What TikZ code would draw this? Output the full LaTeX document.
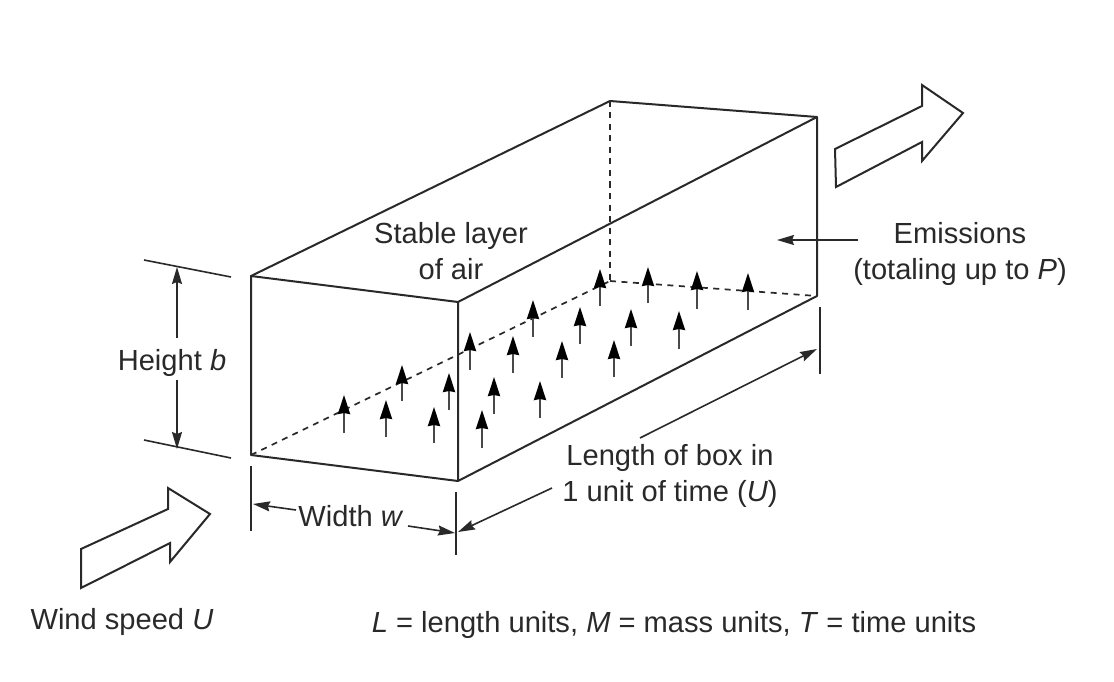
\documentclass[tikz,border=0pt]{standalone}
\usepackage{fontspec}
\setmainfont{Liberation Sans}
\usetikzlibrary{arrows.meta}
\definecolor{ink}{gray}{0.16}
\tikzset{
  edge/.style={draw=ink,line width=2pt,line join=round},
  hidden/.style={draw=ink,line width=1.7pt,dash pattern=on 6pt off 5.5pt},
  dim/.style={draw=ink,line width=1.6pt},
  dimarrow/.style={dim,-{Stealth[length=17pt,width=10pt,inset=2pt]}},
  rise/.style={draw=ink!85,line width=2.4pt,-{Stealth[length=19pt,width=12pt,inset=1pt,color=black,fill=black]}},
  block/.style={draw=ink,line width=2pt,fill=white,line join=miter},
  lab/.style={text=ink,inner sep=0pt,align=center,font=\fontsize{29.1}{36}\selectfont}
}
\newcommand{\risearrow}[3]{\coordinate (t#1) at (#1,#3); \coordinate (h#1) at (#1,#2); \draw[rise] (t#1) -- (h#1);}
\begin{document}
\begin{tikzpicture}[x=1pt,y=-1pt]
\useasboundingbox (0,0) rectangle (1114,682);
% box corners
\coordinate (A) at (251,276);
\coordinate (B) at (458,302);
\coordinate (C) at (458,481);
\coordinate (D) at (251,455);
\coordinate (E) at (610,101);
\coordinate (F) at (817,117);
\coordinate (G) at (817,296);
\coordinate (H) at (610,281);
% hidden edges
\draw[hidden] (D) -- (H);
\draw[hidden] (H) -- (G);
\draw[hidden] (E) -- (H);
% emission arrows
\risearrow{344}{395}{433}
\risearrow{386}{400}{437}
\risearrow{402}{365}{401}
\risearrow{434}{407}{443}
\risearrow{449}{373}{410}
\risearrow{470}{332}{370}
\risearrow{482}{410}{448}
\risearrow{494}{377}{414}
\risearrow{513}{336}{373}
\risearrow{540}{381}{418}
\risearrow{533}{300}{337}
\risearrow{562}{341}{378}
\risearrow{580}{307}{344}
\risearrow{600}{269}{306}
\risearrow{614}{340}{377}
\risearrow{631}{309}{346}
\risearrow{648}{267}{303}
\risearrow{679}{311}{349}
\risearrow{697}{271}{309}
\risearrow{748}{273}{310}
% visible edges
\draw[edge] (A) -- (B) -- (C) -- (D) -- cycle;
\draw[edge] (A) -- (E) -- (F) -- (G) -- (C);
\draw[edge] (B) -- (F);
% height dimension
\coordinate (h1a) at (144,260); \coordinate (h1b) at (231,277);
\coordinate (h2a) at (144,440); \coordinate (h2b) at (231,458);
\draw[dim] (h1a) -- (h1b);
\draw[dim] (h2a) -- (h2b);
\node[lab] (height) at (172,363) {Height \textit{b}};
\coordinate (hUp) at (177,267); \coordinate (hDn) at (177,449);
\coordinate (hUs) at (177,338); \coordinate (hDs) at (177,380);
\draw[dimarrow] (hUs) -- (hUp);
\draw[dimarrow] (hDs) -- (hDn);
% width dimension
\coordinate (w1a) at (251,466); \coordinate (w1b) at (251,531);
\coordinate (w2a) at (456,492); \coordinate (w2b) at (456,555);
\draw[dim] (w1a) -- (w1b);
\draw[dim] (w2a) -- (w2b);
\node[lab] (width) at (351,516) {Width \textit{w}};
\coordinate (wLs) at (296,510); \coordinate (wL) at (253,504);
\coordinate (wRs) at (408,526); \coordinate (wR) at (455,533);
\draw[dimarrow] (wLs) -- (wL);
\draw[dimarrow] (wRs) -- (wR);
% length dimension
\coordinate (l1a) at (820,307); \coordinate (l1b) at (820,374);
\draw[dim] (l1a) -- (l1b);
\node[lab] (length) at (670,476) {Length of box in\\1 unit of time (\textit{U})};
\coordinate (lUs) at (640,438); \coordinate (lU) at (817,349);
\coordinate (lDs) at (552,488); \coordinate (lD) at (458,532);
\draw[dimarrow] (lUs) -- (lU);
\draw[dimarrow] (lDs) -- (lD);
% emissions
\node[lab] (emis) at (960,254) {Emissions\\(totaling up to \textit{P})};
\coordinate (eS) at (858,240); \coordinate (eT) at (777,240);
\draw[dimarrow] (eS) -- (eT);
% stable layer
\node[lab] (stable) at (451,251) {Stable layer\\of air};
% block arrows
\draw[block] (81,549) -- (168,509) -- (168,488) -- (210,514) -- (170,562) -- (170,543) -- (81,588) -- cycle;
\draw[block] (835,149) -- (922,106) -- (922,85) -- (963,113) -- (922,161) -- (922,142) -- (836,187) -- cycle;
% captions
\node[lab] (wind) at (122,622) {Wind speed \textit{U}};
\node[lab] (units) at (674,625) {\textit{L} = length units, \textit{M} = mass units, \textit{T} = time units};
\end{tikzpicture}
\end{document}
